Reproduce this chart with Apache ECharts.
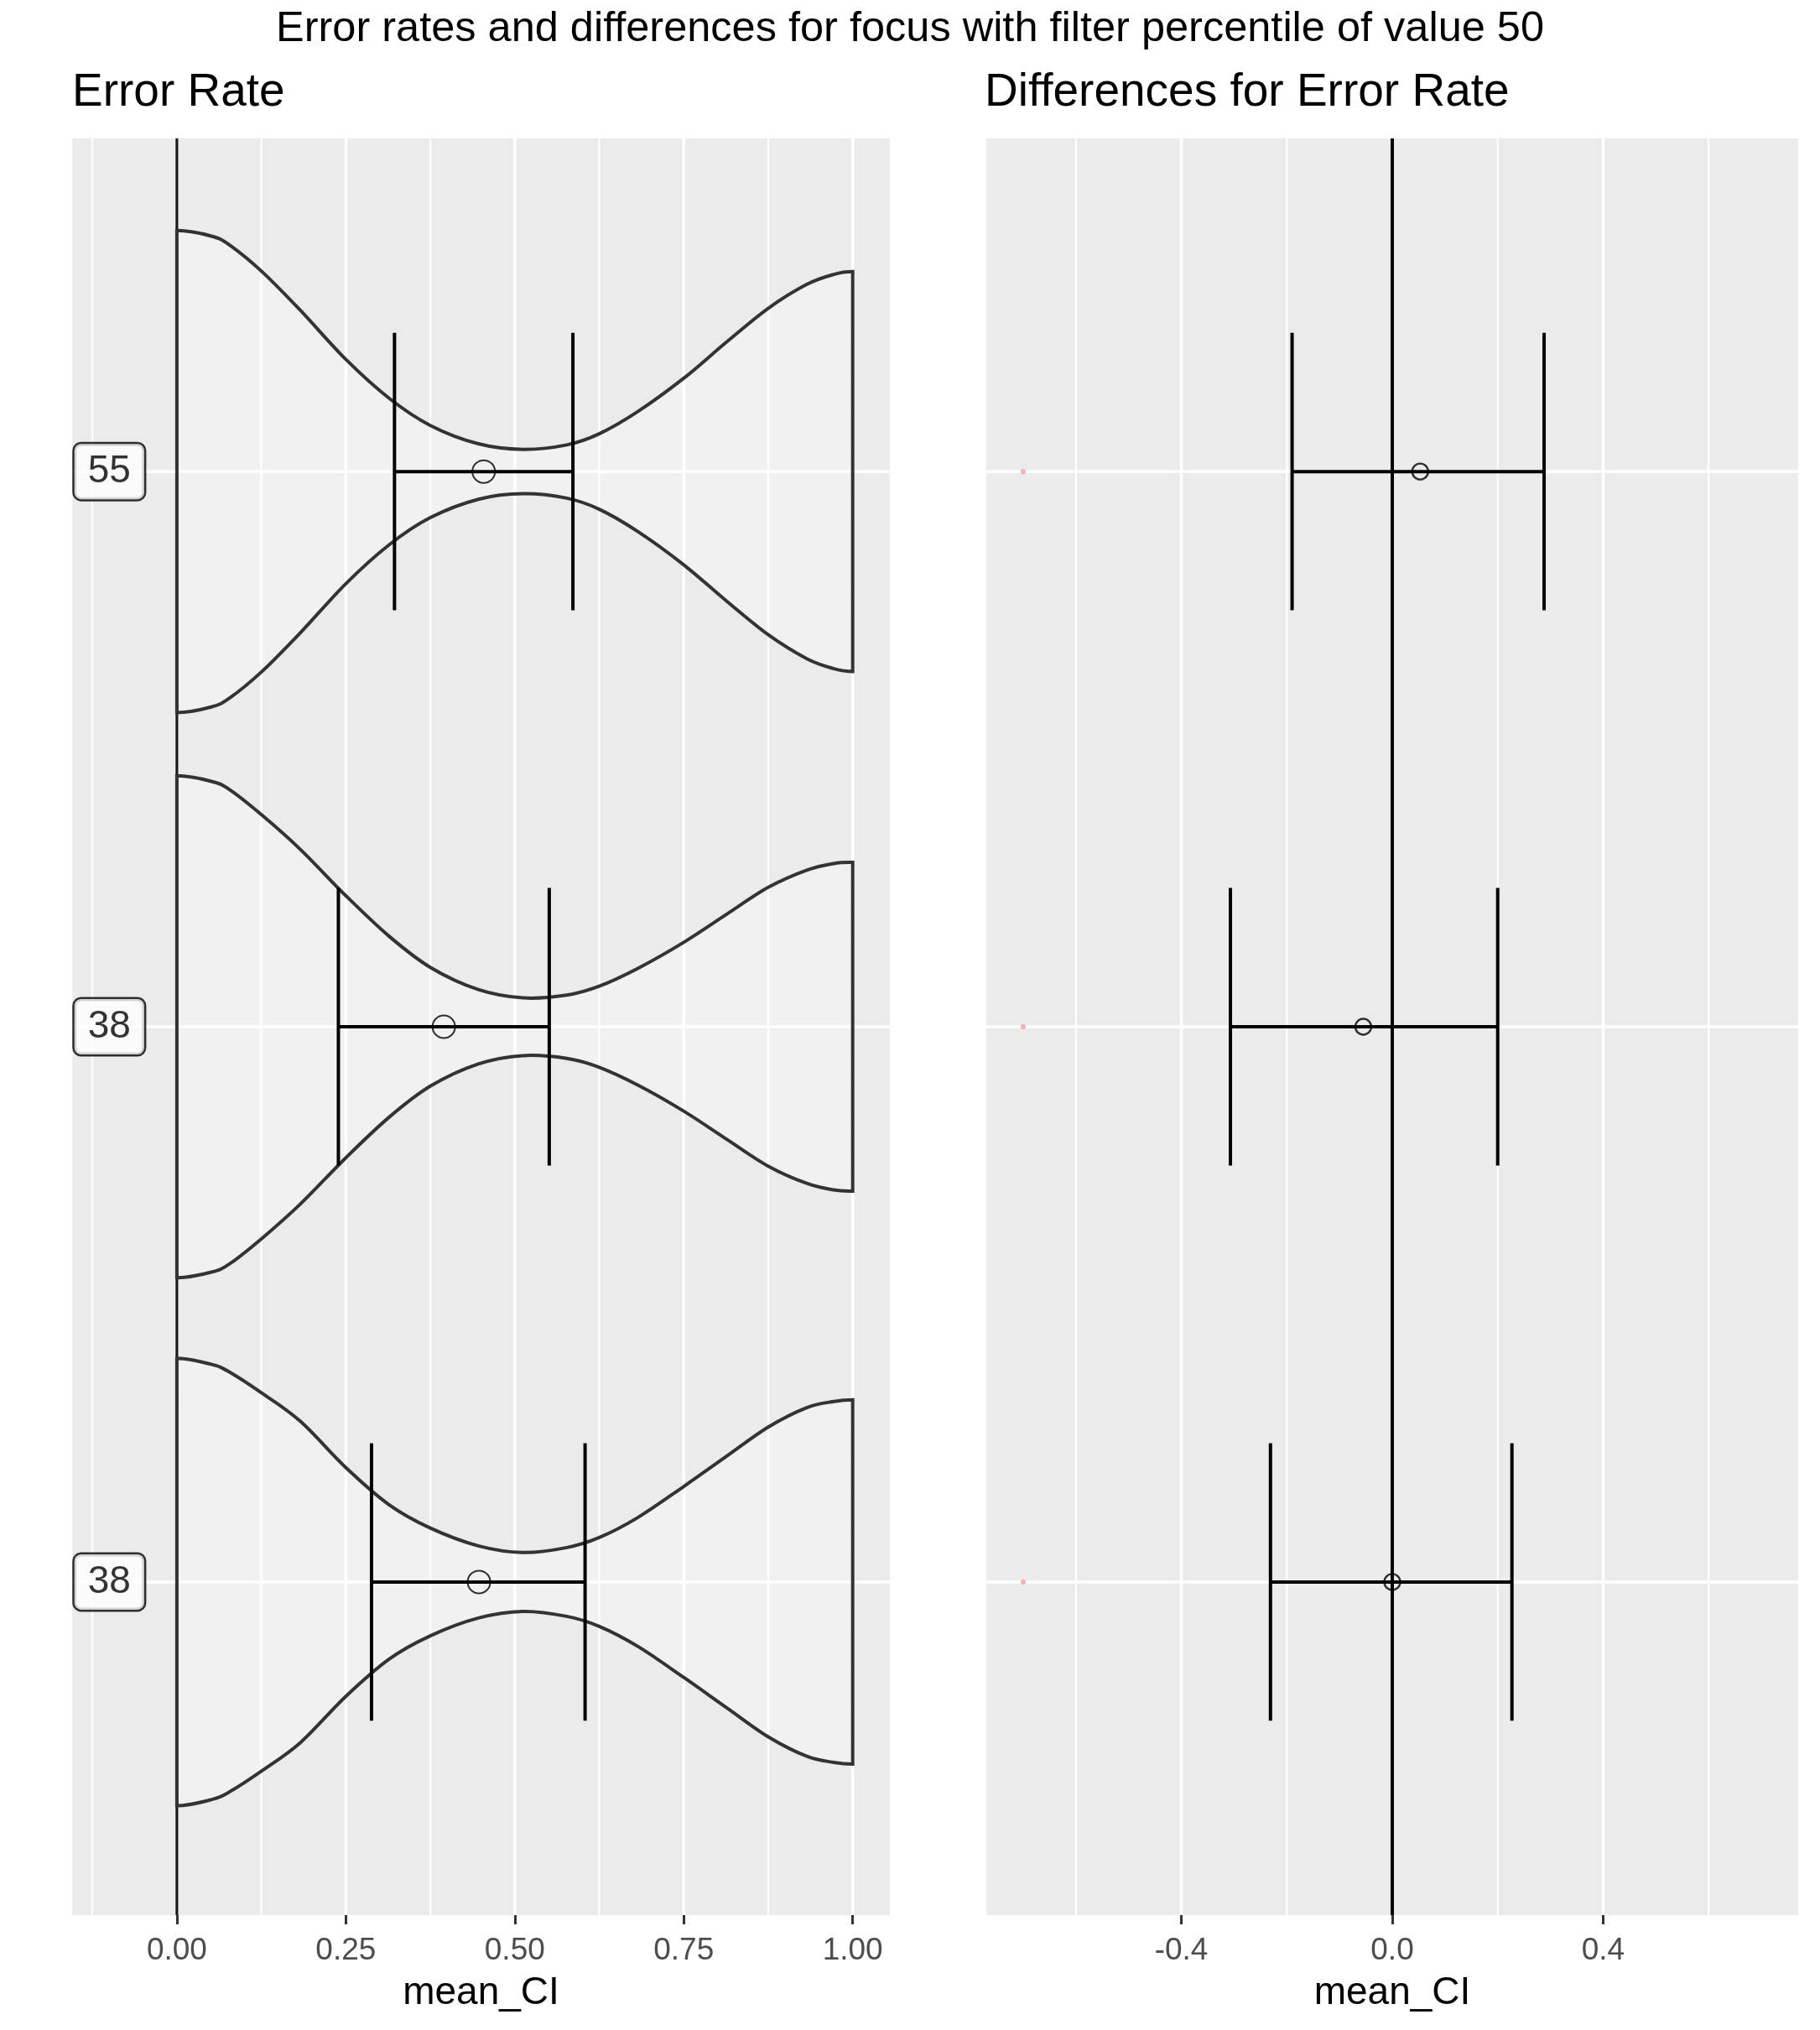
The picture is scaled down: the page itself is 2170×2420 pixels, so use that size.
<!DOCTYPE html>
<html>
<head>
<meta charset="utf-8">
<script src="https://cdn.jsdelivr.net/npm/echarts@6/dist/echarts.min.js"></script>
<style>html,body{margin:0;padding:0;background:#fff}#c{width:2170px;height:2420px}</style>
</head>
<body>
<div id="c"></div>
<script>
// ---------- DATA ----------
const mainTitle = "Error rates and differences for focus with filter percentile of value 50";
const leftTitle = "Error Rate";
const rightTitle = "Differences for Error Rate";
const axisTitle = "mean_CI";

// groups, top to bottom (y positions 1,2,3)
const groupPos = [1, 2, 3];
const groupLabels = ["55", "38", "38"];

// left panel: error rate
const meanLeft = [0.454, 0.395, 0.447];
const ciLowLeft = [0.322, 0.239, 0.288];
const ciHighLeft = [0.586, 0.551, 0.604];

// right panel: differences
const meanRight = [0.053, -0.055, 0.0];
const ciLowRight = [-0.190, -0.307, -0.231];
const ciHighRight = [0.288, 0.200, 0.227];
const refDotX = [-0.7, -0.7, -0.7];

// violin outlines: x samples and half widths (in group units)
const violinX = [0, 0.051, 0.078, 0.126, 0.183, 0.25, 0.314, 0.375, 0.446, 0.512, 0.577, 0.625, 0.682, 0.75, 0.814, 0.875, 0.932, 0.972, 1];
const violin55 = [0.434, 0.424, 0.408, 0.360, 0.290, 0.202, 0.132, 0.083, 0.050, 0.040, 0.048, 0.068, 0.108, 0.168, 0.234, 0.294, 0.337, 0.355, 0.360];
const violin38a = [0.452, 0.442, 0.427, 0.381, 0.319, 0.236, 0.163, 0.107, 0.067, 0.052, 0.057, 0.073, 0.105, 0.152, 0.203, 0.251, 0.282, 0.294, 0.296];
const violin38b = [0.403, 0.392, 0.378, 0.340, 0.289, 0.206, 0.139, 0.097, 0.065, 0.053, 0.062, 0.080, 0.116, 0.172, 0.227, 0.279, 0.314, 0.325, 0.328];
const violins = [violin55, violin38a, violin38b];

// axis ticks
const leftTicks = [0, 0.25, 0.5, 0.75, 1];
const leftTickLabels = ["0.00", "0.25", "0.50", "0.75", "1.00"];
const leftMinor = [-0.125, 0.125, 0.375, 0.625, 0.875];
const rightTicks = [-0.4, 0, 0.4];
const rightTickLabels = ["-0.4", "0.0", "0.4"];
const rightMinor = [-0.6, -0.2, 0.2, 0.6];
const leftRange = [-0.155, 1.055];
const rightRange = [-0.77, 0.77];
const yRange = [0.4, 3.6];

// ---------- CHART ----------
const FONT = "Liberation Sans";
const chart = echarts.init(document.getElementById('c'), null, {renderer: 'canvas'});

function vGridSeries(xi, values, width, z) {
  return {
    type: 'custom', xAxisIndex: xi, yAxisIndex: xi, z: z, silent: true,
    data: values.map(v => [v]),
    renderItem: function (params, api) {
      const cs = params.coordSys;
      const x = api.coord([api.value(0), 2])[0];
      return {type: 'line', shape: {x1: x, y1: cs.y, x2: x, y2: cs.y + cs.height},
        style: {stroke: '#ffffff', lineWidth: width}};
    }
  };
}
function hGridSeries(xi, z) {
  return {
    type: 'custom', xAxisIndex: xi, yAxisIndex: xi, z: z, silent: true,
    data: groupPos.map(p => [0, p]),
    renderItem: function (params, api) {
      const cs = params.coordSys;
      const y = api.coord([0, api.value(1)])[1];
      return {type: 'line', shape: {x1: cs.x, y1: y, x2: cs.x + cs.width, y2: y},
        style: {stroke: '#ffffff', lineWidth: 3.5}};
    }
  };
}
function vlineSeries(xi, color, width, z) {
  return {
    type: 'custom', xAxisIndex: xi, yAxisIndex: xi, z: z, silent: true,
    data: [[0]],
    renderItem: function (params, api) {
      const cs = params.coordSys;
      const x = api.coord([api.value(0), 2])[0];
      return {type: 'line', shape: {x1: x, y1: cs.y, x2: x, y2: cs.y + cs.height},
        style: {stroke: color, lineWidth: width}};
    }
  };
}
function errorbarSeries(xi, lows, highs, z) {
  return {
    type: 'custom', xAxisIndex: xi, yAxisIndex: xi, z: z, silent: true,
    data: groupPos.map((p, i) => [lows[i], highs[i], p]),
    renderItem: function (params, api) {
      const lo = api.value(0), hi = api.value(1), y = api.value(2);
      const a = api.coord([lo, y]), b = api.coord([hi, y]);
      const a1 = api.coord([lo, y - 0.25]), a2 = api.coord([lo, y + 0.25]);
      const b1 = api.coord([hi, y - 0.25]), b2 = api.coord([hi, y + 0.25]);
      const st = {stroke: '#000', lineWidth: 4};
      return {type: 'group', children: [
        {type: 'line', shape: {x1: a[0], y1: a[1], x2: b[0], y2: b[1]}, style: st},
        {type: 'line', shape: {x1: a1[0], y1: a1[1], x2: a2[0], y2: a2[1]}, style: st},
        {type: 'line', shape: {x1: b1[0], y1: b1[1], x2: b2[0], y2: b2[1]}, style: st}
      ]};
    }
  };
}

// smooth curve through pixel points (Catmull-Rom -> cubic Bezier), with flat
// (mirrored) tangents at both ends, as the density has reflective bounds.
function curvePath(pts, moveFirst) {
  const n = pts.length;
  const P = function (i) {
    if (i < 0) { return [2 * pts[0][0] - pts[1][0], pts[1][1]]; }
    if (i >= n) { return [2 * pts[n - 1][0] - pts[n - 2][0], pts[n - 2][1]]; }
    return pts[i];
  };
  let d = (moveFirst ? 'M' : 'L') + pts[0][0].toFixed(2) + ' ' + pts[0][1].toFixed(2);
  for (let i = 0; i < n - 1; i++) {
    const p0 = P(i - 1), p1 = P(i), p2 = P(i + 1), p3 = P(i + 2);
    const c1 = [p1[0] + (p2[0] - p0[0]) / 6, p1[1] + (p2[1] - p0[1]) / 6];
    const c2 = [p2[0] - (p3[0] - p1[0]) / 6, p2[1] - (p3[1] - p1[1]) / 6];
    d += ' C' + c1[0].toFixed(2) + ' ' + c1[1].toFixed(2) + ' ' + c2[0].toFixed(2) + ' ' + c2[1].toFixed(2) + ' ' + p2[0].toFixed(2) + ' ' + p2[1].toFixed(2);
  }
  return d;
}

const violinSeries = {
  type: 'custom', xAxisIndex: 0, yAxisIndex: 0, z: 4, silent: true,
  data: groupPos.map((p, i) => [p, i]),
  renderItem: function (params, api) {
    const y = api.value(0);
    const w = violins[api.value(1)];
    const upper = violinX.map((x, k) => api.coord([x, y - w[k]]));
    const lower = violinX.map((x, k) => api.coord([x, y + w[k]])).reverse();
    const d = curvePath(upper, true) + ' ' + curvePath(lower, false) + ' Z';
    return {type: 'path', shape: {pathData: d},
      style: {fill: 'rgba(255,255,255,0.32)', stroke: '#333333', lineWidth: 4, lineJoin: 'miter'}};
  }
};

function xAxisDef(gi, range, ticks, labels) {
  return {
    type: 'value', gridIndex: gi, min: range[0], max: range[1],
    name: axisTitle, nameLocation: 'middle', nameGap: 70,
    nameTextStyle: {fontFamily: FONT, fontSize: 46, color: '#000', lineHeight: 46},
    axisLine: {show: false},
    splitLine: {show: false},
    axisTick: {show: true, customValues: ticks, length: 11, lineStyle: {color: '#333333', width: 3}},
    axisLabel: {show: true, customValues: ticks, margin: 24,
      fontFamily: FONT, fontSize: 37, lineHeight: 37, color: '#4D4D4D',
      formatter: function (v) { const i = ticks.findIndex(t => Math.abs(t - v) < 1e-9); return i >= 0 ? labels[i] : ''; }}
  };
}
function yAxisDef(gi) {
  return {type: 'value', gridIndex: gi, min: yRange[0], max: yRange[1], inverse: true,
    axisLine: {show: false}, axisTick: {show: false}, axisLabel: {show: false}, splitLine: {show: false}};
}

const option = {
  backgroundColor: '#ffffff',
  animation: false,
  title: [
    {text: mainTitle, left: 'center', top: 10, padding: 0,
      textStyle: {fontFamily: FONT, fontSize: 50.5, lineHeight: 50, fontWeight: 'normal', color: '#000'}},
    {text: leftTitle, left: 86, top: 83, padding: 0,
      textStyle: {fontFamily: FONT, fontSize: 55, lineHeight: 55, fontWeight: 'normal', color: '#000'}},
    {text: rightTitle, left: 1174, top: 83, padding: 0,
      textStyle: {fontFamily: FONT, fontSize: 55, lineHeight: 55, fontWeight: 'normal', color: '#000'}}
  ],
  grid: [
    {left: 86, top: 165, width: 975, height: 2118, show: true, backgroundColor: '#EBEBEB', borderWidth: 0},
    {left: 1176, top: 165, width: 968, height: 2118, show: true, backgroundColor: '#EBEBEB', borderWidth: 0}
  ],
  xAxis: [
    xAxisDef(0, leftRange, leftTicks, leftTickLabels),
    xAxisDef(1, rightRange, rightTicks, rightTickLabels)
  ],
  yAxis: [yAxisDef(0), yAxisDef(1)],
  series: [
    vGridSeries(0, leftMinor, 2.2, 1),
    vGridSeries(0, leftTicks, 3.5, 1),
    hGridSeries(0, 1),
    vGridSeries(1, rightMinor, 2.2, 1),
    vGridSeries(1, rightTicks, 3.5, 1),
    hGridSeries(1, 1),
    vlineSeries(0, '#1a1a1a', 3.2, 3),
    violinSeries,
    errorbarSeries(0, ciLowLeft, ciHighLeft, 5),
    {type: 'scatter', xAxisIndex: 0, yAxisIndex: 0, z: 6, silent: true,
      data: groupPos.map((p, i) => [meanLeft[i], p]),
      symbol: 'circle', symbolSize: 27,
      itemStyle: {color: 'rgba(0,0,0,0)', borderColor: '#000', borderWidth: 2}},
    {type: 'scatter', xAxisIndex: 0, yAxisIndex: 0, z: 7, silent: true,
      data: groupPos.map((p, i) => [-0.1, p]),
      symbol: 'circle', symbolSize: 1,
      itemStyle: {color: 'rgba(0,0,0,0)'},
      label: {show: true, position: 'inside',
        formatter: function (pr) { return groupLabels[pr.dataIndex]; },
        fontFamily: FONT, fontSize: 46, lineHeight: 46, color: '#000',
        backgroundColor: '#ffffff', borderColor: '#000', borderWidth: 2.5, borderRadius: 8,
        padding: [10, 16, 10, 16]}},
    {type: 'scatter', xAxisIndex: 1, yAxisIndex: 1, z: 3, silent: true,
      data: groupPos.map((p, i) => [refDotX[i], p]),
      symbol: 'circle', symbolSize: 6,
      itemStyle: {color: 'rgba(248,118,109,0.7)'}},
    errorbarSeries(1, ciLowRight, ciHighRight, 5),
    vlineSeries(1, '#000000', 4, 5),
    {type: 'scatter', xAxisIndex: 1, yAxisIndex: 1, z: 6, silent: true,
      data: groupPos.map((p, i) => [meanRight[i], p]),
      symbol: 'circle', symbolSize: 19,
      itemStyle: {color: 'rgba(0,0,0,0)', borderColor: '#000', borderWidth: 2.4}}
  ]
};
chart.setOption(option);
</script>
</body>
</html>
